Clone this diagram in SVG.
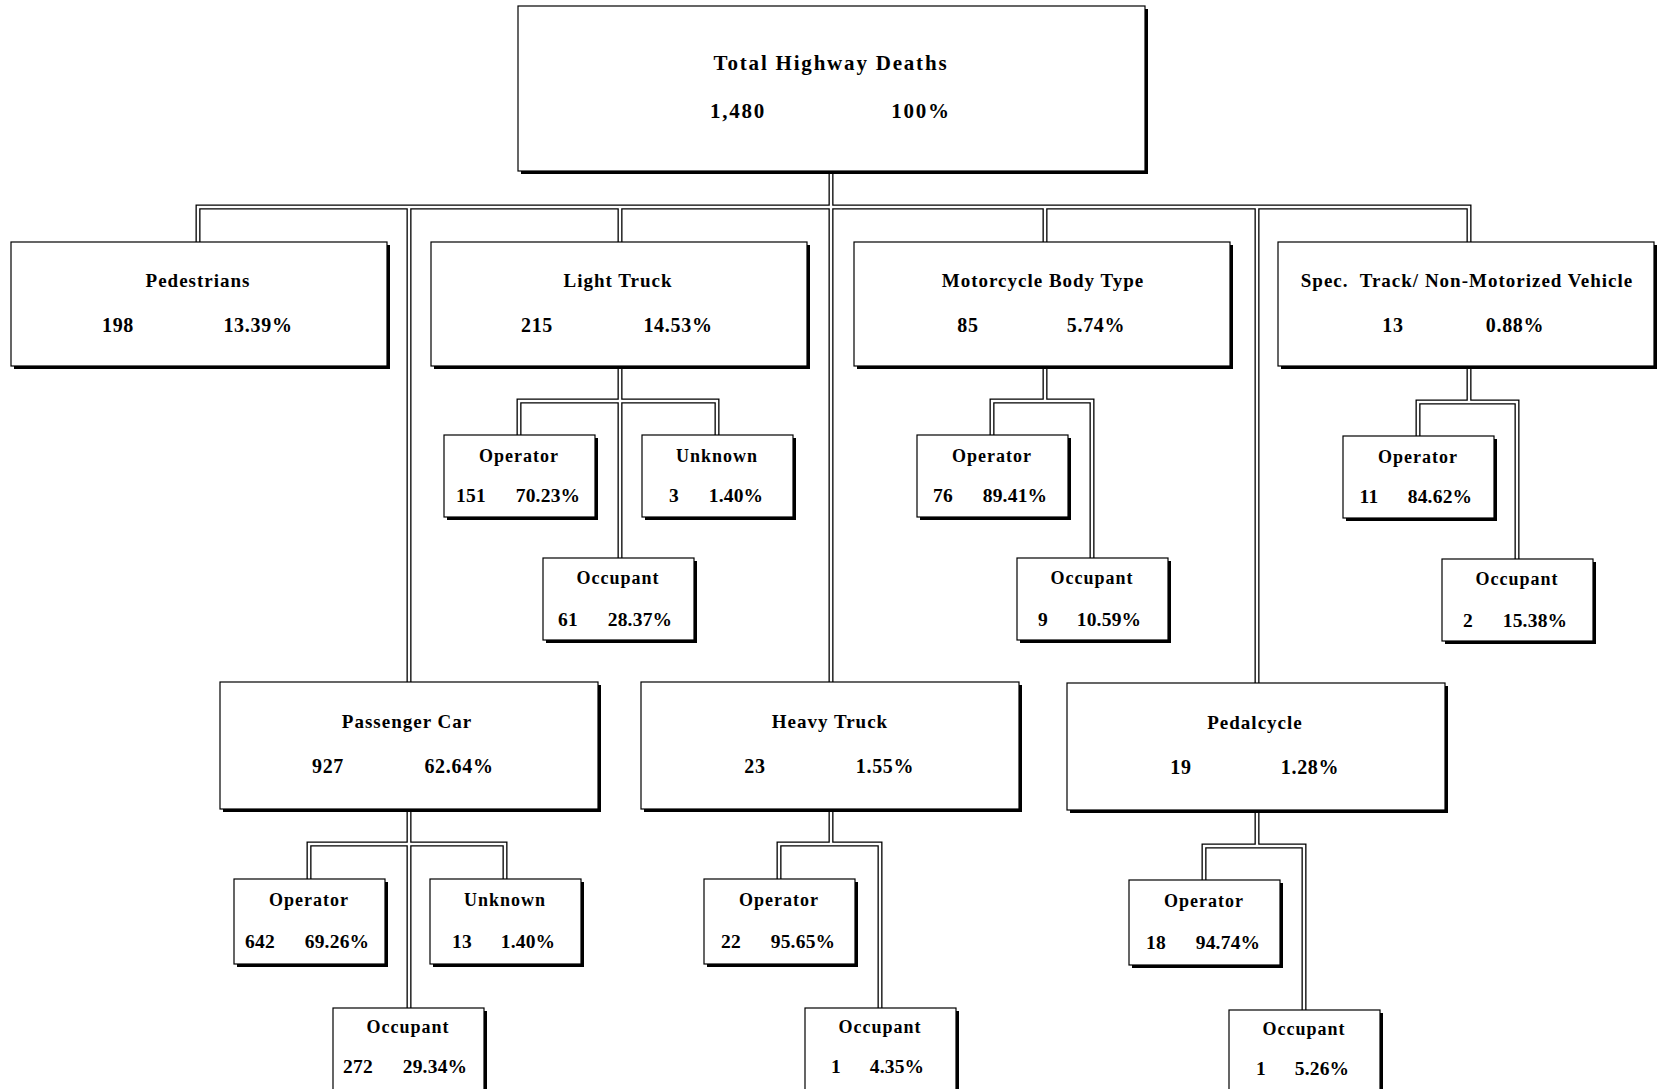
<svg xmlns="http://www.w3.org/2000/svg" xmlns:xlink="http://www.w3.org/1999/xlink" width="1658" height="1089" viewBox="0 0 1658 1089">
<style>
.sh{fill:#000}
.bx{fill:#fff;stroke:#000;stroke-width:1.2}
text{font-family:"Liberation Serif","Times New Roman",serif;font-weight:bold;fill:#000;text-anchor:middle}
.t1{font-size:21px;letter-spacing:1.8px}
.t2{font-size:19px;letter-spacing:1px}
.n2{font-size:20px;letter-spacing:0.7px}
.t3{font-size:18px;letter-spacing:1px}
.n3{font-size:19.5px;letter-spacing:0.2px}
.pre{white-space:pre}
</style>
<defs>
<g id="cpaths">
<path d="M198,242 V207 H1469 V242"/>
<path d="M831,171 V682"/>
<path d="M409,207 V682"/>
<path d="M620,207 V242"/>
<path d="M1045,207 V242"/>
<path d="M1257,207 V683"/>
<path d="M620,366 V558"/>
<path d="M519,435 V401 H717 V435"/>
<path d="M1045,366 V401"/>
<path d="M992,435 V401 H1092 V558"/>
<path d="M1469,366 V402"/>
<path d="M1418,436 V402 H1517 V559"/>
<path d="M409,809 V1008"/>
<path d="M309,879 V844 H505 V879"/>
<path d="M831,809 V844"/>
<path d="M779,879 V844 H880 V1008"/>
<path d="M1257,810 V846"/>
<path d="M1204,880 V846 H1304 V1010"/>
</g>
</defs>
<rect width="1658" height="1089" fill="#fff"/>
<g id="connectors" fill="none">
<use xlink:href="#cpaths" stroke="#000" stroke-width="5"/>
<use xlink:href="#cpaths" stroke="#fff" stroke-width="2.4"/>
</g>

<g id="total">
<rect class="sh" x="521" y="9" width="627" height="165"/>
<rect class="bx" x="518" y="6" width="627" height="165"/>
<text class="t1" x="831" y="70">Total Highway Deaths</text>
<text class="t1" x="738" y="118">1,480</text>
<text class="t1" x="921" y="118">100%</text>
</g>

<g id="pedestrians">
<rect class="sh" x="14" y="245" width="376" height="124"/>
<rect class="bx" x="11" y="242" width="376" height="124"/>
<text class="t2" x="198" y="287">Pedestrians</text>
<text class="n2" x="118" y="332">198</text>
<text class="n2" x="258" y="332">13.39%</text>
</g>

<g id="light-truck">
<rect class="sh" x="434" y="245" width="376" height="124"/>
<rect class="bx" x="431" y="242" width="376" height="124"/>
<text class="t2" x="618" y="287">Light Truck</text>
<text class="n2" x="537" y="332">215</text>
<text class="n2" x="678" y="332">14.53%</text>
</g>

<g id="motorcycle">
<rect class="sh" x="857" y="245" width="376" height="124"/>
<rect class="bx" x="854" y="242" width="376" height="124"/>
<text class="t2" x="1043" y="287">Motorcycle Body Type</text>
<text class="n2" x="968" y="332">85</text>
<text class="n2" x="1096" y="332">5.74%</text>
</g>

<g id="spec-track">
<rect class="sh" x="1281" y="245" width="376" height="124"/>
<rect class="bx" x="1278" y="242" width="376" height="124"/>
<text class="t2 pre" x="1467" y="287">Spec.  Track/ Non-Motorized Vehicle</text>
<text class="n2" x="1393" y="332">13</text>
<text class="n2" x="1515" y="332">0.88%</text>
</g>

<g id="passenger-car">
<rect class="sh" x="223" y="685" width="378" height="127"/>
<rect class="bx" x="220" y="682" width="378" height="127"/>
<text class="t2" x="407" y="728">Passenger Car</text>
<text class="n2" x="328" y="773">927</text>
<text class="n2" x="459" y="773">62.64%</text>
</g>

<g id="heavy-truck">
<rect class="sh" x="644" y="685" width="378" height="127"/>
<rect class="bx" x="641" y="682" width="378" height="127"/>
<text class="t2" x="830" y="728">Heavy Truck</text>
<text class="n2" x="755" y="773">23</text>
<text class="n2" x="885" y="773">1.55%</text>
</g>

<g id="pedalcycle">
<rect class="sh" x="1070" y="686" width="378" height="127"/>
<rect class="bx" x="1067" y="683" width="378" height="127"/>
<text class="t2" x="1255" y="729">Pedalcycle</text>
<text class="n2" x="1181" y="774">19</text>
<text class="n2" x="1310" y="774">1.28%</text>
</g>

<g id="lt-operator">
<rect class="sh" x="447" y="438" width="151" height="82"/>
<rect class="bx" x="444" y="435" width="151" height="82"/>
<text class="t3" x="519" y="462">Operator</text>
<text class="n3" x="471" y="502">151</text>
<text class="n3" x="548" y="502">70.23%</text>
</g>
<g id="lt-unknown">
<rect class="sh" x="645" y="438" width="151" height="82"/>
<rect class="bx" x="642" y="435" width="151" height="82"/>
<text class="t3" x="717" y="462">Unknown</text>
<text class="n3" x="674" y="502">3</text>
<text class="n3" x="736" y="502">1.40%</text>
</g>
<g id="lt-occupant">
<rect class="sh" x="546" y="561" width="151" height="82"/>
<rect class="bx" x="543" y="558" width="151" height="82"/>
<text class="t3" x="618" y="584">Occupant</text>
<text class="n3" x="568" y="626">61</text>
<text class="n3" x="640" y="626">28.37%</text>
</g>

<g id="mc-operator">
<rect class="sh" x="920" y="438" width="151" height="82"/>
<rect class="bx" x="917" y="435" width="151" height="82"/>
<text class="t3" x="992" y="462">Operator</text>
<text class="n3" x="943" y="502">76</text>
<text class="n3" x="1015" y="502">89.41%</text>
</g>
<g id="mc-occupant">
<rect class="sh" x="1020" y="561" width="151" height="82"/>
<rect class="bx" x="1017" y="558" width="151" height="82"/>
<text class="t3" x="1092" y="584">Occupant</text>
<text class="n3" x="1043" y="626">9</text>
<text class="n3" x="1109" y="626">10.59%</text>
</g>

<g id="st-operator">
<rect class="sh" x="1346" y="439" width="151" height="82"/>
<rect class="bx" x="1343" y="436" width="151" height="82"/>
<text class="t3" x="1418" y="463">Operator</text>
<text class="n3" x="1369" y="503">11</text>
<text class="n3" x="1440" y="503">84.62%</text>
</g>
<g id="st-occupant">
<rect class="sh" x="1445" y="562" width="151" height="82"/>
<rect class="bx" x="1442" y="559" width="151" height="82"/>
<text class="t3" x="1517" y="585">Occupant</text>
<text class="n3" x="1468" y="627">2</text>
<text class="n3" x="1535" y="627">15.38%</text>
</g>

<g id="pc-operator">
<rect class="sh" x="237" y="882" width="151" height="85"/>
<rect class="bx" x="234" y="879" width="151" height="85"/>
<text class="t3" x="309" y="906">Operator</text>
<text class="n3" x="260" y="948">642</text>
<text class="n3" x="337" y="948">69.26%</text>
</g>
<g id="pc-unknown">
<rect class="sh" x="433" y="882" width="151" height="85"/>
<rect class="bx" x="430" y="879" width="151" height="85"/>
<text class="t3" x="505" y="906">Unknown</text>
<text class="n3" x="462" y="948">13</text>
<text class="n3" x="528" y="948">1.40%</text>
</g>
<g id="pc-occupant">
<rect class="sh" x="336" y="1011" width="151" height="100"/>
<rect class="bx" x="333" y="1008" width="151" height="100"/>
<text class="t3" x="408" y="1033">Occupant</text>
<text class="n3" x="358" y="1073">272</text>
<text class="n3" x="435" y="1073">29.34%</text>
</g>

<g id="ht-operator">
<rect class="sh" x="707" y="882" width="151" height="85"/>
<rect class="bx" x="704" y="879" width="151" height="85"/>
<text class="t3" x="779" y="906">Operator</text>
<text class="n3" x="731" y="948">22</text>
<text class="n3" x="803" y="948">95.65%</text>
</g>
<g id="ht-occupant">
<rect class="sh" x="808" y="1011" width="151" height="100"/>
<rect class="bx" x="805" y="1008" width="151" height="100"/>
<text class="t3" x="880" y="1033">Occupant</text>
<text class="n3" x="836" y="1073">1</text>
<text class="n3" x="897" y="1073">4.35%</text>
</g>

<g id="pd-operator">
<rect class="sh" x="1132" y="883" width="151" height="85"/>
<rect class="bx" x="1129" y="880" width="151" height="85"/>
<text class="t3" x="1204" y="907">Operator</text>
<text class="n3" x="1156" y="949">18</text>
<text class="n3" x="1228" y="949">94.74%</text>
</g>
<g id="pd-occupant">
<rect class="sh" x="1232" y="1013" width="151" height="100"/>
<rect class="bx" x="1229" y="1010" width="151" height="100"/>
<text class="t3" x="1304" y="1035">Occupant</text>
<text class="n3" x="1261" y="1075">1</text>
<text class="n3" x="1322" y="1075">5.26%</text>
</g>
</svg>
